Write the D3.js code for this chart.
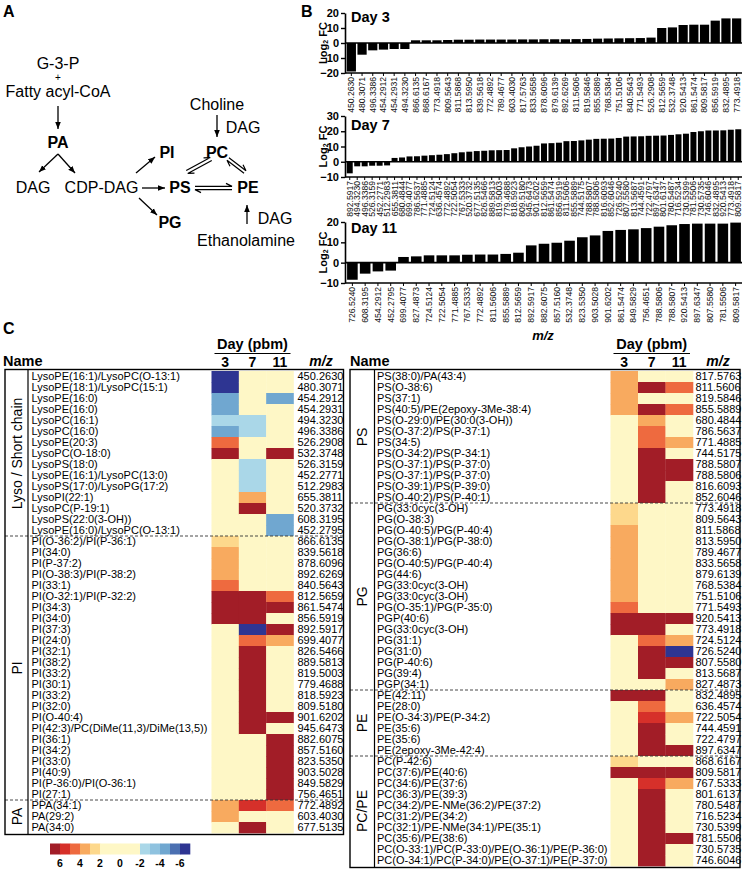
<!DOCTYPE html>
<html><head><meta charset="utf-8">
<script src="https://cdn.jsdelivr.net/npm/d3@7"></script>
<style>body{margin:0;background:#fff}svg{display:block;font-family:"Liberation Sans",Arial,Helvetica,sans-serif}</style>
</head><body><svg id="fig" width="747" height="872"></svg>
<script>
// ---------------- DATA ----------------
const days = ["3", "7", "11"];

const day3Labels = ["450.2630","480.3071","496.3386","454.2912","454.2931","494.3230","866.6135","868.6167","773.4918","809.5643","811.5868","813.5950","839.5618","772.4892","789.4677","603.4030","817.5763","833.5658","878.6096","879.6139","892.6269","811.5606","819.5846","855.5889","768.5384","751.5106","840.5643","771.5493","526.2908","812.5659","532.3748","920.5413","861.5474","809.5817","856.5919","832.4895","773.4918"];
const day3Values = [-19,-7.8,-4.9,-4.4,-4,-4,1.8,1.8,1.8,2,2.2,2.2,2.3,2.3,2.3,2.3,2.4,2.4,2.5,2.5,2.5,2.6,2.7,2.9,3,3.1,3.2,3.3,3.6,10,10.4,12,12.2,12.2,14.9,16.4,16.4];
const day3Ticks = [20,10,0,-10,-20];

const day7Labels = ["892.5917","494.3230","496.3386","526.3159","452.2771","512.2983","655.3811","680.4844","699.4077","786.5637","771.4885","724.5124","636.4574","772.4892","722.5054","767.5333","520.3732","677.5135","826.5466","889.5813","819.5003","779.4688","818.5923","809.5180","945.6473","901.6202","812.5659","861.5474","856.5919","811.5606","855.5889","744.5175","788.5807","788.5806","816.6093","852.6046","726.5240","807.5580","813.5687","744.4591","722.4797","897.6347","801.6137","780.5487","716.5234","730.5399","781.5506","730.5735","746.6046","832.4895","920.5413","773.4918","809.5817"];
const day7Values = [-7.6,-3,-3,-2.6,-2.6,-2.4,2.5,2.8,3.5,3.6,4,4.3,4.6,5,5.6,6.2,6.6,7,7.2,7.5,7.6,7.7,8.8,9.5,10,10.5,12,12.2,12.5,13.5,13.6,14,14.5,15,15.1,15.2,15.6,16.5,16.6,16.7,17,17.1,17.2,17.6,18,18.4,19.5,20,20.5,20.5,20.6,21,21.3];
const day7Ticks = [30,20,10,0,-10];

const day11Labels = ["726.5240","608.3195","454.2912","452.2795","699.4077","827.4873","724.5124","722.5054","771.4885","767.5333","772.4892","811.5606","855.5889","812.5659","892.5917","882.6075","857.5160","532.3748","823.5350","903.5028","901.6202","861.5474","849.5829","756.4651","788.5806","788.5807","920.5413","897.6347","807.5580","781.5506","809.5817"];
const day11Values = [-8.4,-5.4,-4.3,-3.9,2.8,3.1,3.6,3.6,3.6,3.9,4,4,4.3,4.9,8.5,9.3,9.8,10.8,12.5,13.4,15.6,16.1,16.4,17,17.7,18.4,19,19.2,19.2,19.2,19.7];
const day11Ticks = [20,10,0,-10];

const leftNames = ["LysoPE(16:1)/LysoPC(O-13:1)","LysoPE(18:1)/LysoPC(15:1)","LysoPE(16:0)","LysoPE(16:0)","LysoPC(16:1)","LysoPC(16:0)","LysoPE(20:3)","LysoPC(O-18:0)","LysoPS(18:0)","LysoPE(16:1)/LysoPC(13:0)","LysoPS(17:0)/LysoPG(17:2)","LysoPI(22:1)","LysoPC(P-19:1)","LysoPS(22:0(3-OH))","LysoPE(16:0)/LysoPC(O-13:1)",
"PI(O-36:2)/PI(P-36:1)","PI(34:0)","PI(P-37:2)","PI(O-38:3)/PI(P-38:2)","PI(33:1)","PI(O-32:1)/PI(P-32:2)","PI(34:3)","PI(34:0)","PI(37:3)","PI(24:0)","PI(32:1)","PI(38:2)","PI(33:2)","PI(30:1)","PI(33:2)","PI(32:0)","PI(O-40:4)","PI(42:3)/PC(DiMe(11,3)/DiMe(13,5))","PI(36:1)","PI(34:2)","PI(33:0)","PI(40:9)","PI(P-36:0)/PI(O-36:1)","PI(27:1)",
"PPA(34:1)","PA(29:2)","PA(34:0)"];
const leftMz = ["450.2630","480.3071","454.2912","454.2931","494.3230","496.3386","526.2908","532.3748","526.3159","452.2771","512.2983","655.3811","520.3732","608.3195","452.2795","866.6135","839.5618","878.6096","892.6269","840.5643","812.5659","861.5474","856.5919","892.5917","699.4077","826.5466","889.5813","819.5003","779.4688","818.5923","809.5180","901.6202","945.6473","882.6075","857.5160","823.5350","903.5028","849.5829","756.4651","772.4892","603.4030","677.5135"];
const leftDay3  = [-7,-7,-4,-4,-2,-4,4,7,0,0,0,0,0,0,0, 2,3,3,3,4,7,7,7,0,0,0,0,0,0,0,0,0,0,0,0,0,0,0,0, 3,3,0];
const leftDay7  = [0,0,0,0,-2,-2,0,0,-2,-2,-2,3,7,0,0, 0,0,0,0,0,7,7,7,-7,4,7,7,7,7,7,7,7,7,0,0,0,0,0,0, 5,0,7];
const leftDay11 = [0,0,-4,0,0,0,0,7,0,0,0,0,0,-4,-4, 0,0,0,0,0,4,7,0,7,3,0,0,0,0,0,0,7,0,7,7,7,7,7,7, 4,0,0];
const leftGroupNames = ["Lyso / Short chain","PI","PA"];
const leftGroupSizes = [15,24,3];

const rightNames = ["PS(38:0)/PA(43:4)","PS(O-38:6)","PS(37:1)","PS(40:5)/PE(2epoxy-3Me-38:4)","PS(O-29:0)/PE(30:0(3-OH))","PS(O-37:2)/PS(P-37:1)","PS(34:5)","PS(O-34:2)/PS(P-34:1)","PS(O-37:1)/PS(P-37:0)","PS(O-37:1)/PS(P-37:0)","PS(O-39:1)/PS(P-39:0)","PS(O-40:2)/PS(P-40:1)",
"PG(33:0cyc(3-OH)","PG(O-38:3)","PG(O-40:5)/PG(P-40:4)","PG(O-38:1)/PG(P-38:0)","PG(36:6)","PG(O-40:5)/PG(P-40:4)","PG(44:6)","PG(33:0cyc(3-OH)","PG(33:0cyc(3-OH)","PG(O-35:1)/PG(P-35:0)","PGP(40:6)","PG(33:0cyc(3-OH)","PG(31:1)","PG(31:0)","PG(P-40:6)","PG(39:4)","PGP(34:1)",
"PE(42:11)","PE(28:0)","PE(O-34:3)/PE(P-34:2)","PE(35:6)","PE(35:6)","PE(2epoxy-3Me-42:4)",
"PC(P-42:6)","PC(37:6)/PE(40:6)","PC(34:6)/PE(37:6)","PC(36:3)/PE(39:3)","PC(34:2)/PE-NMe(36:2)/PE(37:2)","PC(31:2)/PE(34:2)","PC(32:1)/PE-NMe(34:1)/PE(35:1)","PC(35:6)/PE(38:6)","PC(O-33:1)/PC(P-33:0)/PE(O-36:1)/PE(P-36:0)","PC(O-34:1)/PC(P-34:0)/PE(O-37:1)/PE(P-37:0)"];
const rightMz = ["817.5763","811.5606","819.5846","855.5889","680.4844","786.5637","771.4885","744.5175","788.5807","788.5806","816.6093","852.6046","773.4918","809.5643","811.5868","813.5950","789.4677","833.5658","879.6139","768.5384","751.5106","771.5493","920.5413","773.4918","724.5124","726.5240","807.5580","813.5687","827.4873","832.4895","636.4574","722.5054","744.4591","722.4797","897.6347","868.6167","809.5817","767.5333","801.6137","780.5487","716.5234","730.5399","781.5506","730.5735","746.6046"];
const rightDay3  = [3,3,3,3,0,0,0,0,0,0,0,0, 2,2,3,3,3,3,3,3,3,4,7,7,0,0,0,0,0, 7,0,0,0,0,0, 2,7,0,0,0,0,0,0,0,0];
const rightDay7  = [0,7,0,7,3,4,4,7,7,7,7,7, 0,0,0,0,0,0,0,0,0,0,7,7,4,7,7,7,0, 7,4,5,7,7,7, 0,7,5,7,7,7,7,7,7,7];
const rightDay11 = [0,4,0,4,0,0,3,0,7,7,0,0, 0,0,0,0,0,0,0,0,0,0,7,0,3,-7,7,0,3, 0,0,3,0,0,7, 0,7,3,0,0,0,0,7,0,0];
const rightGroupNames = ["PS","PG","PE","PC/PE"];
const rightGroupSizes = [12,17,6,10];

const legendDomain = [7,-7];
const legendTicks = [6,4,2,0,-2,-4,-6];

// ---------------- STYLE ----------------
const svg = d3.select("#fig");
const heatColor = d3.scaleThreshold()
  .domain([-5.6,-4.6,-3.6,-2.6,-1.6,1.6,2.6,3.6,4.6,5.6])
  .range(["#2e3592","#4b70b1","#70a7d0","#8fc2df","#aad7e8","#fef7c6","#fdd88c","#f8aa5f","#ee6a3f","#d6302a","#a21d27"]);

// ---------------- PANEL A ----------------
const A = svg.append("g");
A.append("text").attr("x",3).attr("y",17).attr("font-size",16).attr("font-weight","bold").text("A");
const defs = svg.append("defs");
defs.append("marker").attr("id","ah").attr("viewBox","0 0 10 10").attr("refX",10).attr("refY",5)
  .attr("markerWidth",7).attr("markerHeight",7).attr("markerUnits","userSpaceOnUse").attr("orient","auto")
  .append("path").attr("d","M0,1L10,5L0,9Z").attr("fill","#000");

const aTexts = [
  ["G-3-P",58,68.5,false,16],["+",58,81,false,10],["Fatty acyl-CoA",58,97,false,16],
  ["PA",58,148,true,16],["DAG",33,193,false,16],["CDP-DAG",101.5,193,false,16],
  ["PI",167,158,true,16],["PS",180,193,true,16],["PG",170,228,true,16],
  ["PC",217,158,true,16],["PE",248,193,true,16],["Choline",217,110,false,16],
  ["DAG",243,133,false,16],["DAG",275,224,false,16],["Ethanolamine",246,246,false,16]
];
A.selectAll("text.t").data(aTexts).join("text").attr("class","t")
  .attr("x",d=>d[1]).attr("y",d=>d[2]).attr("text-anchor","middle")
  .attr("font-size",d=>d[4]).attr("font-weight",d=>d[3]?"bold":"normal").text(d=>d[0]);

const aArrows = [[58,106,58,129],[58,154,39,172],[58,154,75,173],[136,173,155,157],[142,188,165,188],[139,198,157,215],[217,115,217,137],[247,224,247,205]];
A.selectAll("line.ar").data(aArrows).join("line").attr("class","ar")
  .attr("x1",d=>d[0]).attr("y1",d=>d[1]).attr("x2",d=>d[2]).attr("y2",d=>d[3])
  .attr("stroke","#000").attr("stroke-width",1.3).attr("marker-end","url(#ah)");

const aDouble = [[195,188,232,188],[187,172,211,159],[228,159,245,172]];
aDouble.forEach(([x1,y1,x2,y2])=>{
  const dx=x2-x1, dy=y2-y1, L=Math.hypot(dx,dy), ux=dx/L, uy=dy/L, px=-uy, py=ux, o=1.6, h=6;
  const a1=[x1-px*o,y1-py*o], a2=[x2-px*o,y2-py*o];
  const b1=[x1+px*o,y1+py*o], b2=[x2+px*o,y2+py*o];
  const p = d3.path();
  p.moveTo(a1[0],a1[1]); p.lineTo(a2[0],a2[1]); p.lineTo(a2[0]-ux*h-px*3,a2[1]-uy*h-py*3);
  p.moveTo(b2[0],b2[1]); p.lineTo(b1[0],b1[1]); p.lineTo(b1[0]+ux*h+px*3,b1[1]+uy*h+py*3);
  A.append("path").attr("d",p.toString()).attr("fill","none").attr("stroke","#000").attr("stroke-width",1.2);
});

// ---------------- PANEL B ----------------
const B = svg.append("g");
B.append("text").attr("x",301).attr("y",17).attr("font-size",16).attr("font-weight","bold").text("B");

function barChart(labels, values, domain, ticks, yTop, yBot, title, titleY, pad) {
  const g = B.append("g");
  const x = d3.scaleBand().domain(d3.range(labels.length)).range([346,742]).paddingInner(pad).paddingOuter(pad/2);
  const y = d3.scaleLinear().domain(domain).range([yBot,yTop]);
  g.selectAll("rect").data(values).join("rect")
    .attr("x",(d,i)=>x(i)).attr("width",x.bandwidth())
    .attr("y",d=>y(Math.max(0,d))).attr("height",d=>Math.abs(y(d)-y(0)))
    .attr("fill","#000");
  g.append("line").attr("x1",345).attr("x2",742).attr("y1",y(0)).attr("y2",y(0)).attr("stroke","#000").attr("stroke-width",1.6);
  const ya = g.append("g").attr("transform","translate(345,0)")
    .call(d3.axisLeft(y).tickValues(ticks).tickSize(4).tickPadding(2).tickSizeOuter(0));
  ya.select(".domain").attr("stroke-width",1.6);
  ya.selectAll(".tick line").attr("stroke-width",1.4);
  ya.selectAll("text").attr("font-size",11).attr("font-weight","bold").attr("font-family",null).attr("fill","#000");
  const xa = g.append("g").attr("transform",`translate(0,${yBot})`)
    .call(d3.axisBottom(x).tickFormat(i=>labels[i]).tickSize(3).tickSizeOuter(0));
  xa.select(".domain").attr("stroke-width",1.6).attr("d",`M345,0H742`);
  xa.selectAll(".tick line").attr("stroke-width",1);
  xa.selectAll("text").attr("font-size",8.6).attr("font-family",null).attr("fill","#111")
    .attr("transform","rotate(-90)").attr("text-anchor","end").attr("x",-4).attr("y",0).attr("dy","0.34em");
  g.append("text").attr("x",351).attr("y",titleY).attr("font-size",14.5).attr("font-weight","bold").text(title);
  const cy = (yTop+yBot)/2;
  const lab = g.append("text").attr("transform",`translate(327,${cy}) rotate(-90)`).attr("text-anchor","middle")
    .attr("font-size",11).attr("font-weight","bold");
  lab.append("tspan").text("Log");
  lab.append("tspan").attr("font-size",7).attr("dy",1).text("2");
  lab.append("tspan").attr("dy",-1).text(" FC");
}
barChart(day3Labels, day3Values, [-20,20], day3Ticks, 13, 73, "Day 3", 22, 0.14);
barChart(day7Labels, day7Values, [-10,30], day7Ticks, 116, 177, "Day 7", 130, 0.2);
barChart(day11Labels, day11Values, [-10,20], day11Ticks, 222, 283, "Day 11", 233, 0.17);
B.append("text").attr("x",543).attr("y",340).attr("text-anchor","middle").attr("font-size",13)
  .attr("font-weight","bold").attr("font-style","italic").text("m/z");

// ---------------- PANEL C ----------------
svg.append("text").attr("x",3).attr("y",334).attr("font-size",16).attr("font-weight","bold").text("C");
const ROWH = 11, TOP = 371;

function drawTable(cfg) {
  const g = svg.append("g");
  const n = cfg.names.length;
  const rowY = d3.scaleBand().domain(d3.range(n)).range([TOP, TOP + n*ROWH]);
  const colX = d3.scaleBand().domain(days).range(cfg.heat);
  days.forEach((d,j)=>{
    g.append("g").selectAll("rect").data(cfg.values[j]).join("rect")
      .attr("x",colX(d)).attr("y",(v,i)=>rowY(i)).attr("width",colX.bandwidth()+0.3)
      .attr("height",rowY.bandwidth()+0.4).attr("fill",v=>heatColor(v));
  });
  g.append("g").selectAll("text").data(cfg.names).join("text")
    .attr("x",cfg.nameX).attr("y",(d,i)=>rowY(i)+ROWH/2).attr("dy","0.36em")
    .attr("font-size",11).text(d=>d);
  g.append("g").selectAll("text").data(cfg.mz).join("text")
    .attr("x",cfg.mzX).attr("y",(d,i)=>rowY(i)+ROWH/2).attr("dy","0.36em")
    .attr("font-size",11).text(d=>d);
  let start = 0;
  cfg.groupSizes.forEach((s,k)=>{
    if (k>0) g.append("line").attr("x1",cfg.box[0]).attr("x2",cfg.box[1])
      .attr("y1",rowY(start)).attr("y2",rowY(start))
      .attr("stroke","#333").attr("stroke-width",0.9).attr("stroke-dasharray","3,2");
    const cy = rowY(start) + s*ROWH/2;
    g.append("text").attr("transform",`translate(${cfg.groupX},${cy}) rotate(-90)`)
      .attr("text-anchor","middle").attr("dy","0.35em").attr("font-size",14).text(cfg.groupNames[k]);
    start += s;
  });
  const bottom = TOP + n*ROWH + 1.5;
  g.append("rect").attr("x",cfg.box[0]).attr("y",TOP-1.5).attr("width",cfg.box[1]-cfg.box[0])
    .attr("height",bottom-(TOP-1.5)).attr("fill","none").attr("stroke","#000").attr("stroke-width",1.4);
  g.append("line").attr("x1",cfg.divX).attr("x2",cfg.divX).attr("y1",TOP-1.5).attr("y2",bottom)
    .attr("stroke","#000").attr("stroke-width",1.2);
  g.append("text").attr("x",cfg.nameHeadX).attr("y",366).attr("font-size",14.5).attr("font-weight","bold").text("Name");
  const hc = (cfg.heat[0]+cfg.heat[1])/2;
  g.append("text").attr("x",hc).attr("y",349).attr("text-anchor","middle").attr("font-size",14.5).attr("font-weight","bold").text("Day (pbm)");
  g.append("line").attr("x1",cfg.heat[0]+3).attr("x2",cfg.heat[1]-3).attr("y1",353.5).attr("y2",353.5).attr("stroke","#000").attr("stroke-width",1.2);
  g.append("g").selectAll("text").data(days).join("text")
    .attr("x",d=>colX(d)+colX.bandwidth()/2).attr("y",367).attr("text-anchor","middle")
    .attr("font-size",14).attr("font-weight","bold").text(d=>d);
  g.append("text").attr("x",cfg.mzHeadX).attr("y",366).attr("text-anchor","middle").attr("font-size",14)
    .attr("font-weight","bold").attr("font-style","italic").text("m/z");
  return bottom;
}

const leftBottom = drawTable({names:leftNames, mz:leftMz, values:[leftDay3,leftDay7,leftDay11],
  groupNames:leftGroupNames, groupSizes:leftGroupSizes, box:[5,343.5], divX:28, nameX:31.5,
  heat:[211.5,293.5], mzX:297.5, groupX:17, nameHeadX:3, mzHeadX:321});
drawTable({names:rightNames, mz:rightMz, values:[rightDay3,rightDay7,rightDay11],
  groupNames:rightGroupNames, groupSizes:rightGroupSizes, box:[350,740], divX:374.5, nameX:377,
  heat:[610.5,693], mzX:695.5, groupX:362, nameHeadX:350, mzHeadX:718});

// legend
const lx = d3.scaleLinear().domain(legendDomain).range([50,190]);
const cells = d3.range(legendDomain[0], legendDomain[1], -1);
const lg = svg.append("g");
const ly = leftBottom + 9;
lg.selectAll("rect").data(cells).join("rect")
  .attr("x",d=>lx(d)).attr("y",ly).attr("width",lx(cells[0]-1)-lx(cells[0])+0.3).attr("height",11)
  .attr("fill",d=>heatColor(d-0.5));
lg.selectAll("text").data(legendTicks).join("text")
  .attr("x",d=>lx(d)).attr("y",ly+23).attr("text-anchor","middle").attr("font-size",10.5)
  .attr("font-weight","bold").text(d=>d);
</script></body></html>
